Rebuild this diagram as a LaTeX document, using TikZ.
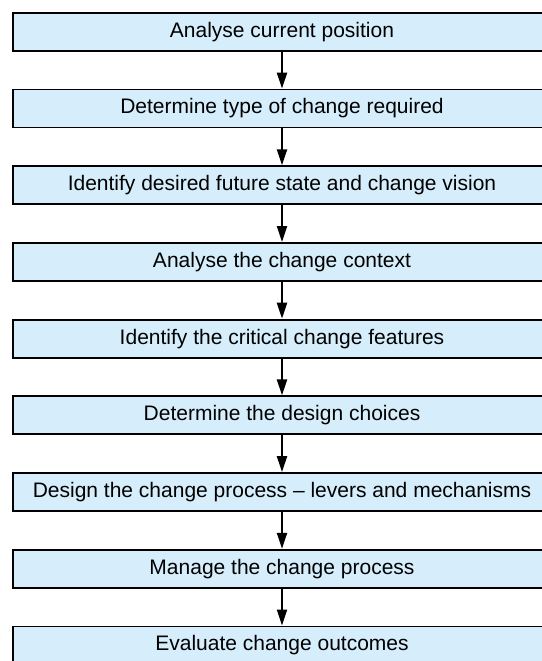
\documentclass[tikz,border=0pt]{standalone}
\usepackage{fontspec}
\setmainfont{Liberation Sans}
\usepackage{xcolor}
\usepackage{tikz}
\usetikzlibrary{arrows.meta}
\definecolor{stagefill}{RGB}{214,238,252}
\tikzset{
  stagebox/.style={rectangle, draw=black, line width=1.8pt, fill=stagefill, minimum width=538pt, minimum height=38pt, inner sep=0pt, font=\fontsize{21}{25}\selectfont},
  flowarr/.style={-{Triangle[length=16pt, width=10pt]}, line width=2.2pt, black},
}

\begin{document}
\begin{tikzpicture}[x=1pt, y=-1pt]
\useasboundingbox (0,0) rectangle (541,661);
\node[stagebox] (pos) at (282,31.8) {Analyse current position};
\node[stagebox] (type) at (282,108.5) {Determine type of change required};
\node[stagebox] (vision) at (282,185.2) {Identify desired future state and change vision};
\node[stagebox] (context) at (282,261.9) {Analyse the change context};
\node[stagebox] (features) at (282,338.6) {Identify the critical change features};
\node[stagebox] (choices) at (282,415.3) {Determine the design choices};
\node[stagebox] (design) at (282,492.0) {Design the change process -- levers and mechanisms};
\node[stagebox] (manage) at (282,568.7) {Manage the change process};
\node[stagebox] (evaluate) at (282,645.4) {Evaluate change outcomes};
\draw[flowarr] (pos) -- (type);
\draw[flowarr] (type) -- (vision);
\draw[flowarr] (vision) -- (context);
\draw[flowarr] (context) -- (features);
\draw[flowarr] (features) -- (choices);
\draw[flowarr] (choices) -- (design);
\draw[flowarr] (design) -- (manage);
\draw[flowarr] (manage) -- (evaluate);
\end{tikzpicture}
\end{document}
